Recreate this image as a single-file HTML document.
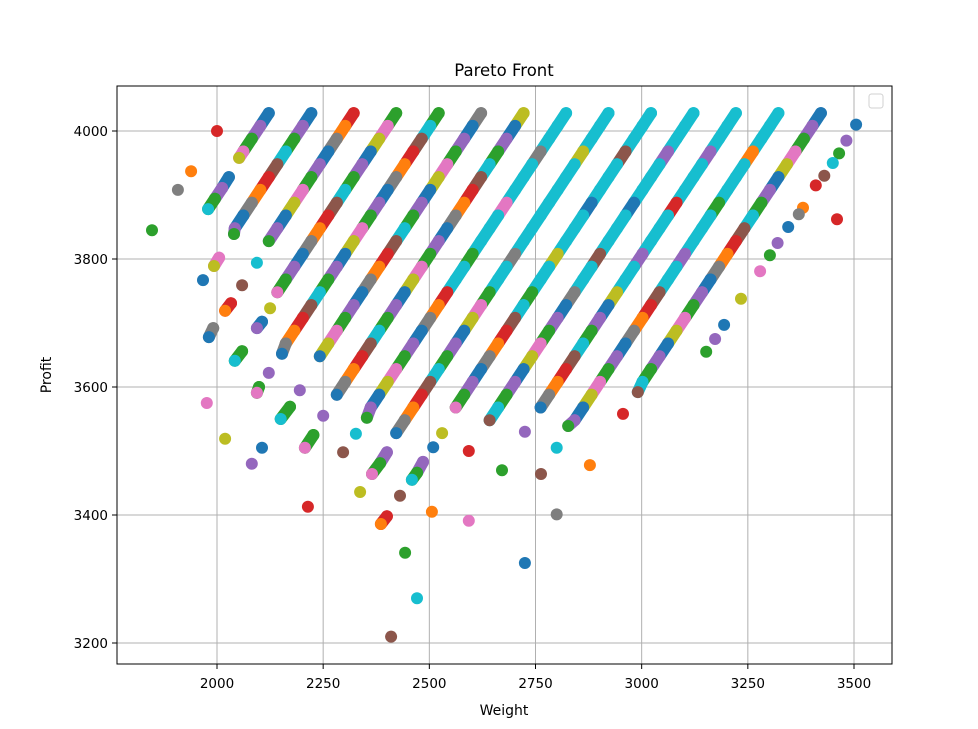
<!DOCTYPE html>
<html>
<head>
<meta charset="utf-8">
<style>
  html,body{margin:0;padding:0;background:#fff;}
  svg{display:block;font-family:"DejaVu Sans","Liberation Sans",sans-serif;}
</style>
</head>
<body>
<svg id="chart" width="978" height="729" viewBox="0 0 978 729" xmlns="http://www.w3.org/2000/svg">
  <rect x="0" y="0" width="978" height="729" fill="#fff"/>
  <rect x="117" y="86" width="775" height="578" fill="#fff"/>
  <g id="grid"></g>
  <g id="segs"></g>
  <g id="points"></g>
  <rect x="117" y="86" width="775" height="578" fill="none" stroke="#000" stroke-width="1"/>
  <g id="xticks"></g>
  <g id="yticks"></g>
  <text x="504" y="76" text-anchor="middle" font-size="16.5" fill="#000">Pareto Front</text>
  <text x="504" y="715" text-anchor="middle" font-size="14" fill="#000">Weight</text>
  <text x="51" y="375" text-anchor="middle" font-size="14" fill="#000" transform="rotate(-90 51 375)">Profit</text>
  <rect x="869" y="94" width="14" height="14" rx="2.5" fill="#fff" stroke="#d0d0d0" stroke-width="1"/>
</svg>
<script>
const xTicks = [2000, 2250, 2500, 2750, 3000, 3250, 3500];
const yTicks = [3200, 3400, 3600, 3800, 4000];

const stripe0 = [[2122,4028],[2102,4008],[2082,3988],[2062,3968],[2052,3958],[2028,3928],[2012,3911],[1995,3894],[1979,3878]];
const stripe1 = [[2222,4028],[2202,4008],[2182,3988],[2162,3968],[2142,3948],[2122,3928],[2102,3908],[2082,3888],[2062,3868],[2042,3848],[2040,3839],[2005,3802],[1993,3789],[1967,3767]];
const stripe2 = [[2322,4028],[2302,4008],[2282,3988],[2262,3968],[2242,3948],[2222,3928],[2202,3908],[2182,3888],[2162,3868],[2142,3848],[2122,3828],[2094,3794],[2059,3759],[2033,3731],[2019,3719],[1991,3692],[1981,3678]];
const stripe3 = [[2422,4028],[2402,4008],[2382,3988],[2362,3968],[2342,3948],[2322,3928],[2302,3908],[2282,3888],[2262,3868],[2242,3848],[2222,3828],[2202,3808],[2182,3788],[2162,3768],[2142,3748],[2125,3723],[2106,3702],[2094,3692],[2059,3656],[2042,3641]];
const stripe4 = [[2522,4028],[2502,4008],[2482,3988],[2462,3968],[2442,3948],[2422,3928],[2402,3908],[2382,3888],[2362,3868],[2342,3848],[2322,3828],[2302,3808],[2282,3788],[2262,3768],[2242,3748],[2222,3728],[2202,3708],[2182,3688],[2162,3668],[2153,3652],[2122,3622],[2099,3600],[2094,3591]];
const stripe5 = [[2622,4028],[2602,4008],[2582,3988],[2562,3968],[2542,3948],[2522,3928],[2502,3908],[2482,3888],[2462,3868],[2442,3848],[2422,3828],[2402,3808],[2382,3788],[2362,3768],[2342,3748],[2322,3728],[2302,3708],[2282,3688],[2262,3668],[2242,3648],[2195,3595],[2172,3569],[2150,3550]];
const stripe6 = [[2722,4028],[2702,4008],[2682,3988],[2662,3968],[2642,3948],[2622,3928],[2602,3908],[2582,3888],[2562,3868],[2542,3848],[2522,3828],[2502,3808],[2482,3788],[2462,3768],[2442,3748],[2422,3728],[2402,3708],[2382,3688],[2362,3668],[2342,3648],[2322,3628],[2302,3608],[2282,3588],[2250,3555],[2227,3525],[2207,3505]];
const stripe7 = [[2822,4028],[2802,4008],[2782,3988],[2762,3968],[2742,3948],[2722,3928],[2702,3908],[2682,3888],[2662,3868],[2642,3848],[2622,3828],[2602,3808],[2582,3788],[2562,3768],[2542,3748],[2522,3728],[2502,3708],[2482,3688],[2462,3668],[2442,3648],[2422,3628],[2402,3608],[2382,3588],[2362,3568],[2353,3552],[2327,3527],[2297,3498],[2214,3413]];
const stripe8 = [[2922,4028],[2902,4008],[2882,3988],[2862,3968],[2842,3948],[2822,3928],[2802,3908],[2782,3888],[2762,3868],[2742,3848],[2722,3828],[2702,3808],[2682,3788],[2662,3768],[2642,3748],[2622,3728],[2602,3708],[2582,3688],[2562,3668],[2542,3648],[2522,3628],[2502,3608],[2482,3588],[2462,3568],[2442,3548],[2422,3528],[2400,3498],[2384,3481],[2365,3464],[2337,3436]];
const stripe9 = [[3022,4028],[3002,4008],[2982,3988],[2962,3968],[2942,3948],[2922,3928],[2902,3908],[2882,3888],[2862,3868],[2842,3848],[2822,3828],[2802,3808],[2782,3788],[2762,3768],[2742,3748],[2722,3728],[2702,3708],[2682,3688],[2662,3668],[2642,3648],[2622,3628],[2602,3608],[2582,3588],[2562,3568],[2530,3528],[2509,3506],[2485,3483],[2471,3466],[2459,3455],[2431,3430],[2400,3398],[2386,3386]];
const stripe10 = [[3122,4028],[3102,4008],[3082,3988],[3062,3968],[3042,3948],[3022,3928],[3002,3908],[2982,3888],[2962,3868],[2942,3848],[2922,3828],[2902,3808],[2882,3788],[2862,3768],[2842,3748],[2822,3728],[2802,3708],[2782,3688],[2762,3668],[2742,3648],[2722,3628],[2702,3608],[2682,3588],[2662,3568],[2642,3548],[2593,3500],[2506,3405]];
const stripe11 = [[3222,4028],[3202,4008],[3182,3988],[3162,3968],[3142,3948],[3122,3928],[3102,3908],[3082,3888],[3062,3868],[3042,3848],[3022,3828],[3002,3808],[2982,3788],[2962,3768],[2942,3748],[2922,3728],[2902,3708],[2882,3688],[2862,3668],[2842,3648],[2822,3628],[2802,3608],[2782,3588],[2762,3568],[2725,3530],[2671,3470],[2593,3391]];
const stripe12 = [[3322,4028],[3302,4008],[3282,3988],[3262,3968],[3242,3948],[3222,3928],[3202,3908],[3182,3888],[3162,3868],[3142,3848],[3122,3828],[3102,3808],[3082,3788],[3062,3768],[3042,3748],[3022,3728],[3002,3708],[2982,3688],[2962,3668],[2942,3648],[2922,3628],[2902,3608],[2882,3588],[2862,3568],[2842,3548],[2827,3539],[2800,3505],[2763,3464]];
const stripe13 = [[3422,4028],[3402,4008],[3382,3988],[3362,3968],[3342,3948],[3322,3928],[3302,3908],[3282,3888],[3262,3868],[3242,3848],[3222,3828],[3202,3808],[3182,3788],[3162,3768],[3142,3748],[3122,3728],[3102,3708],[3082,3688],[3062,3668],[3042,3648],[3022,3628],[3002,3608],[2991,3592],[2956,3558],[2878,3478],[2800,3401],[2725,3325]];
const stripe14 = [[3505,4010],[3482,3985],[3465,3965],[3450,3950],[3430,3930],[3410,3915],[3380,3880],[3370,3870],[3345,3850],[3320,3825],[3302,3806],[3279,3781],[3234,3738],[3194,3697],[3173,3675],[3152,3655]];
const stripeLeft = [[2000,4000],[1939,3937],[1908,3908]];
const outliers = [[1847,3845],[1976,3575],[2019,3519],[2106,3505],[2082,3480],[2443,3341],[2471,3270],[2410,3210],[3460,3862]];

const stripes = [stripe0, stripe1, stripe2, stripe3, stripe4, stripe5, stripe6, stripe7, stripe8, stripe9, stripe10, stripe11, stripe12, stripe13, stripe14, stripeLeft, outliers];

const palette = ['#1f77b4','#ff7f0e','#2ca02c','#d62728','#9467bd','#8c564b','#e377c2','#7f7f7f','#bcbd22','#17becf'];
const colorOrder = [0,4,2,6,8,0,4,2,9,5,3,1,7];

const NS = 'http://www.w3.org/2000/svg';
const X0 = 217, PXW = 0.424667, Y0 = 131, PXP = 0.64;
function xScale(w){ return X0 + (w - 2000) * PXW; }
function yScale(p){ return Y0 + (4000 - p) * PXP; }

const grid = document.getElementById('grid');
const xt = document.getElementById('xticks');
const yt = document.getElementById('yticks');

xTicks.forEach(function(v){
  const x = xScale(v);
  const gl = document.createElementNS(NS,'line');
  gl.setAttribute('x1',x); gl.setAttribute('x2',x); gl.setAttribute('y1',86); gl.setAttribute('y2',664);
  gl.setAttribute('stroke','#b0b0b0'); gl.setAttribute('stroke-width','1');
  
  
  grid.appendChild(gl);
  const tk = document.createElementNS(NS,'line');
  tk.setAttribute('x1',x); tk.setAttribute('x2',x); tk.setAttribute('y1',664); tk.setAttribute('y2',669);
  tk.setAttribute('stroke','#000');
  
  
  xt.appendChild(tk);
  const t = document.createElementNS(NS,'text');
  t.setAttribute('x',x); t.setAttribute('y',688); t.setAttribute('text-anchor','middle');
  t.setAttribute('font-size','13.5');
  t.textContent = v;
  
  
  xt.appendChild(t);
});

yTicks.forEach(function(v){
  const y = yScale(v);
  const gl = document.createElementNS(NS,'line');
  gl.setAttribute('x1',117); gl.setAttribute('x2',892); gl.setAttribute('y1',y); gl.setAttribute('y2',y);
  gl.setAttribute('stroke','#b0b0b0'); gl.setAttribute('stroke-width','1');
  
  
  grid.appendChild(gl);
  const tk = document.createElementNS(NS,'line');
  tk.setAttribute('x1',112); tk.setAttribute('x2',117); tk.setAttribute('y1',y); tk.setAttribute('y2',y);
  tk.setAttribute('stroke','#000');
  
  
  yt.appendChild(tk);
  const t = document.createElementNS(NS,'text');
  t.setAttribute('x',108); t.setAttribute('y',y+5); t.setAttribute('text-anchor','end');
  t.setAttribute('font-size','13.5');
  t.textContent = v;
  
  
  yt.appendChild(t);
});

function colorFor(k, i, pt){
  let ci = colorOrder[(i + k * 5) % colorOrder.length];
  if (k >= 7 && k <= 12 && pt[1] > 3760 && i % 4 !== 3) ci = 9;
  return palette[ci];
}

const segs = document.getElementById('segs');
const pts = document.getElementById('points');
stripes.forEach(function(s, k){
  // fill between densely spaced consecutive points of a stripe
  for (let i = 0; i < s.length - 1; i++) {
    const a = s[i], b = s[i + 1];
    if (Math.abs(a[1] - b[1]) <= 20 && k < 14) {
      const ln = document.createElementNS(NS,'line');
      ln.setAttribute('x1', xScale(a[0]).toFixed(1));
      ln.setAttribute('y1', yScale(a[1]).toFixed(1));
      ln.setAttribute('x2', xScale(b[0]).toFixed(1));
      ln.setAttribute('y2', yScale(b[1]).toFixed(1));
      ln.setAttribute('stroke', colorFor(k, i, a));
      ln.setAttribute('stroke-width', '12');
      ln.setAttribute('stroke-linecap', 'round');
      
      
      segs.appendChild(ln);
    }
  }
  s.forEach(function(pt, i){
    const c = document.createElementNS(NS,'circle');
    c.setAttribute('cx', xScale(pt[0]).toFixed(1));
    c.setAttribute('cy', yScale(pt[1]).toFixed(1));
    c.setAttribute('r', 6);
    c.setAttribute('fill', colorFor(k, i, pt));
    
    
    pts.appendChild(c);
  });
});
</script>
</body>
</html>
